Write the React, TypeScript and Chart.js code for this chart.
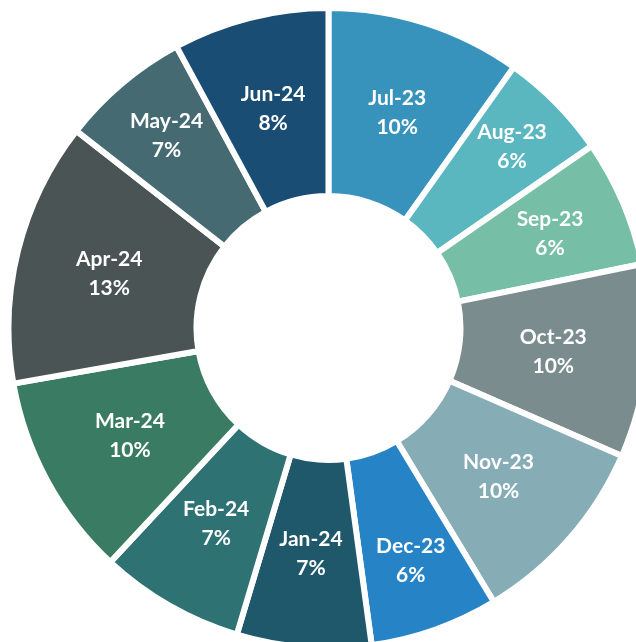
import React, { useEffect, useRef } from "react";
import { Chart, registerables } from "chart.js";

Chart.register(...registerables);

const categories = [
  "Jul-23", "Aug-23", "Sep-23", "Oct-23", "Nov-23", "Dec-23",
  "Jan-24", "Feb-24", "Mar-24", "Apr-24", "May-24", "Jun-24",
];

const shares = [9.83, 5.54, 6.42, 9.75, 9.81, 6.49, 6.78, 7.31, 10.28, 13.34, 6.56, 7.88];

const sliceColors = [
  "#3793BC", "#5AB6BF", "#76BEA5", "#7A8C8E", "#86ACB5", "#2683C6",
  "#1F586B", "#2E7274", "#3A7C63", "#4A5454", "#456A71", "#1A4D74",
];

const LINE_GAP = 29;
const BOX_HALF_HEIGHT = 29;
const FIT_MARGIN = 5.4;
const MAX_RADIAL_FRAC = 0.67;

const labelPlugin = {
  id: "sliceLabels",
  afterDatasetsDraw(chart: any) {
    const ctx = chart.ctx;
    const meta = chart.getDatasetMeta(0);
    const data = chart.data.datasets[0].data as number[];
    const total = data.reduce((a, b) => a + b, 0);
    ctx.save();
    ctx.fillStyle = "#ffffff";
    ctx.textAlign = "center";
    ctx.textBaseline = "middle";
    ctx.font = "bold 21px Lato, 'Open Sans', sans-serif";
    meta.data.forEach((arc: any, i: number) => {
      const { x, y, startAngle, endAngle, innerRadius, outerRadius } = arc.getProps(
        ["x", "y", "startAngle", "endAngle", "innerRadius", "outerRadius"],
        true
      );
      const line1 = String(chart.data.labels[i]);
      const line2 = Math.round((data[i] / total) * 100) + "%";
      const hw = Math.max(ctx.measureText(line1).width, ctx.measureText(line2).width) / 2;
      const hh = BOX_HALF_HEIGHT;
      const mid = (startAngle + endAngle) / 2;
      const half = (endAngle - startAngle) / 2;
      const extent = (a: number) => hw * Math.abs(Math.sin(a)) + hh * Math.abs(Math.cos(a));
      const need = (Math.max(extent(startAngle), extent(endAngle)) + FIT_MARGIN) / Math.sin(half);
      const base = (innerRadius + outerRadius) / 2;
      const cap = innerRadius + MAX_RADIAL_FRAC * (outerRadius - innerRadius);
      const r = Math.min(Math.max(base, need), Math.max(cap, base));
      const px = x + Math.cos(mid) * r;
      const py = y + Math.sin(mid) * r;
      ctx.fillText(line1, px, py - LINE_GAP / 2);
      ctx.fillText(line2, px, py + LINE_GAP / 2);
    });
    ctx.restore();
  },
};

export default function App() {
  const ref = useRef<HTMLCanvasElement | null>(null);

  useEffect(() => {
    document.documentElement.style.overflow = "hidden";
    document.body.style.margin = "0";
    if (!ref.current) return;
    const chart = new Chart(ref.current, {
      type: "doughnut",
      data: {
        labels: categories,
        datasets: [
          {
            data: shares,
            backgroundColor: sliceColors,
            borderColor: "#ffffff",
            hoverBorderColor: "#ffffff",
            borderWidth: 6,
            hoverBorderWidth: 6,
            borderAlign: "center",
            hoverOffset: 0,
          },
        ],
      },
      options: {
        responsive: false,
        maintainAspectRatio: false,
        animation: false,
        radius: 320,
        cutout: "41.25%",
        layout: { padding: 0 },
        events: [],
        plugins: {
          legend: { display: false },
          tooltip: { enabled: false },
        },
      } as any,
      plugins: [labelPlugin],
    });
    return () => chart.destroy();
  }, []);

  return (
    <div style={{ position: "relative", width: 636, height: 642, overflow: "hidden" }}>
      <canvas
        ref={ref}
        width={641}
        height={640}
        style={{ position: "absolute", left: 8, top: 8, width: 641, height: 640, display: "block" }}
      />
    </div>
  );
}
